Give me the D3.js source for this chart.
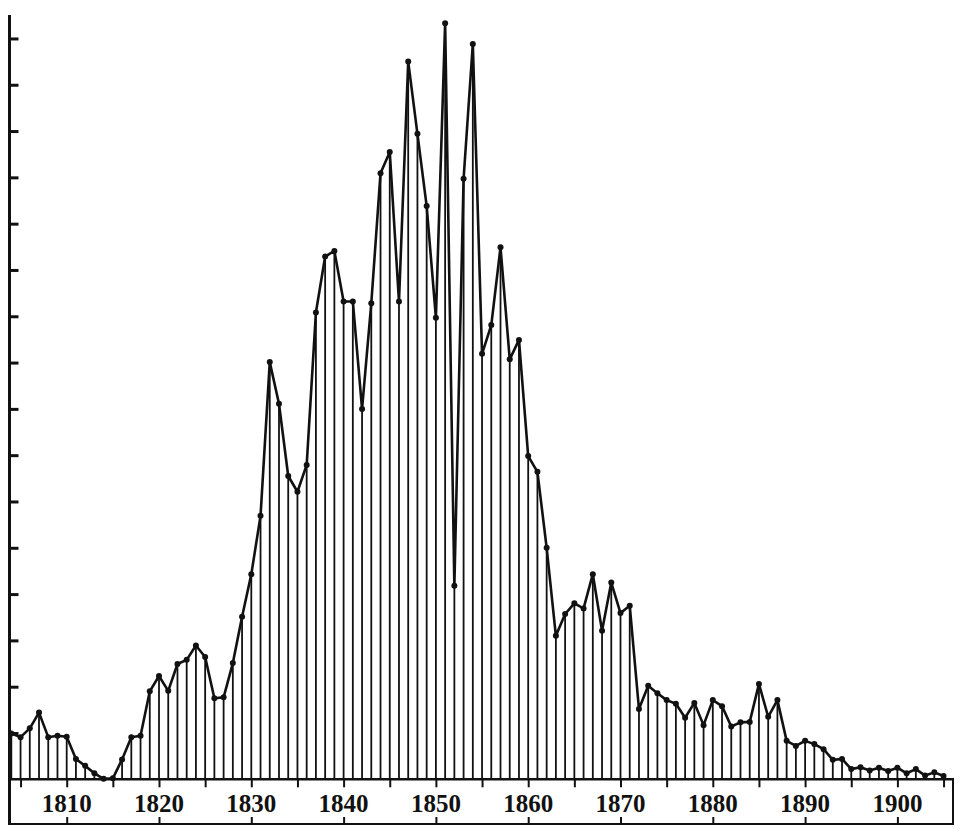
<!DOCTYPE html>
<html>
<head>
<meta charset="utf-8">
<script src="https://cdn.jsdelivr.net/npm/d3@7/dist/d3.min.js"></script>
<style>
  html, body { margin: 0; padding: 0; background: #fff; }
  svg { display: block; }
</style>
</head>
<body>
<svg id="chart" width="960" height="834"></svg>
<script>
const years = d3.range(1804, 1906);
const values = [
  9.9, 9.1, 11.0, 14.4, 9.1, 9.4, 9.2, 4.4, 2.9, 1.3,
  0.1, 0.2, 4.3, 9.1, 9.4, 19.0, 22.3, 19.1, 24.9, 25.8,
  28.9, 26.4, 17.5, 17.7, 25.1, 35.1, 44.3, 56.9, 90.1, 81.1,
  65.5, 62.1, 67.9, 100.8, 112.9, 114.1, 103.2, 103.2, 80.0, 102.8,
  130.9, 135.5, 103.2, 155.0, 139.4, 123.8, 99.7, 163.3, 41.8, 129.7,
  158.8, 91.9, 98.1, 114.9, 90.7, 94.9, 69.8, 66.4, 50.0, 31.0,
  35.7, 38.0, 36.9, 44.3, 32.1, 42.5, 35.9, 37.5, 15.2, 20.2,
  18.6, 17.1, 16.3, 13.3, 16.5, 11.7, 17.1, 15.8, 11.4, 12.3,
  12.4, 20.6, 13.5, 17.1, 8.3, 7.2, 8.3, 7.6, 6.5, 4.2,
  4.4, 2.2, 2.6, 1.9, 2.5, 1.8, 2.5, 1.3, 2.2, 0.8,
  1.5, 0.7
];
const yTicks = d3.range(10, 161, 10);
const minorYears = d3.range(1805, 1906, 5);
const labelYears = d3.range(1810, 1901, 10);
const tickLabels = labelYears.map(String);

const data = years.map((yr, i) => ({ year: yr, value: values[i] }));

const svg = d3.select("#chart");
const ink = "#111";

const x = d3.scaleLinear().domain([1810, 1900]).range([66.7, 897.4]);
const y = d3.scaleLinear().domain([0, 165]).range([779.3, 15.3]);

const axisX = 9.5;
const baseY = y(0);
const bottomY = 824;
const rightX = 953;

// stems
svg.append("g").selectAll("line").data(data).join("line")
  .attr("x1", d => x(d.year)).attr("x2", d => x(d.year))
  .attr("y1", baseY).attr("y2", d => y(d.value))
  .attr("stroke", ink).attr("stroke-width", 1.8);

// connecting line
const line = d3.line().x(d => x(d.year)).y(d => y(d.value));
svg.append("path").datum(data)
  .attr("d", line).attr("fill", "none")
  .attr("stroke", ink).attr("stroke-width", 2.6)
  .attr("stroke-linejoin", "round");

// dots
svg.append("g").selectAll("circle").data(data).join("circle")
  .attr("cx", d => x(d.year)).attr("cy", d => y(d.value))
  .attr("r", 3).attr("fill", ink);

// left axis via d3 axis (ticks pointing right)
const yAxis = d3.axisRight(y).tickValues(yTicks).tickSize(9).tickFormat("");
const gy = svg.append("g").attr("transform", `translate(${axisX},0)`).call(yAxis);
gy.select(".domain").remove();
gy.selectAll(".tick line").attr("stroke", ink).attr("stroke-width", 3);

// frame lines
svg.append("line").attr("x1", axisX).attr("x2", axisX).attr("y1", 15).attr("y2", bottomY + 1)
  .attr("stroke", ink).attr("stroke-width", 3);
svg.append("line").attr("x1", axisX - 1.5).attr("x2", rightX + 1).attr("y1", baseY).attr("y2", baseY)
  .attr("stroke", ink).attr("stroke-width", 2.5);
svg.append("line").attr("x1", axisX - 1.5).attr("x2", rightX + 1).attr("y1", bottomY).attr("y2", bottomY)
  .attr("stroke", ink).attr("stroke-width", 2);
svg.append("line").attr("x1", rightX).attr("x2", rightX).attr("y1", baseY).attr("y2", bottomY)
  .attr("stroke", ink).attr("stroke-width", 2);

// 5-year ticks below baseline
const xAxisTop = d3.axisBottom(x).tickValues(minorYears).tickSize(8).tickFormat("");
const gx1 = svg.append("g").attr("transform", `translate(0,${baseY})`).call(xAxisTop);
gx1.select(".domain").remove();
gx1.selectAll(".tick line").attr("stroke", ink).attr("stroke-width", 2);

// decade ticks up from bottom line, with labels
const xAxisBottom = d3.axisTop(x).tickValues(labelYears).tickSize(7).tickFormat("");
const gx2 = svg.append("g").attr("transform", `translate(0,${bottomY})`).call(xAxisBottom);
gx2.select(".domain").remove();
gx2.selectAll(".tick line").attr("stroke", ink).attr("stroke-width", 2);

svg.append("g").selectAll("text").data(labelYears).join("text")
  .attr("x", d => x(d)).attr("y", 812)
  .attr("text-anchor", "middle")
  .attr("font-family", "'Liberation Serif', 'DejaVu Serif', serif")
  .attr("font-weight", "bold")
  .attr("font-size", 25)
  .attr("fill", ink)
  .text((d, i) => tickLabels[i]);
</script>
</body>
</html>
